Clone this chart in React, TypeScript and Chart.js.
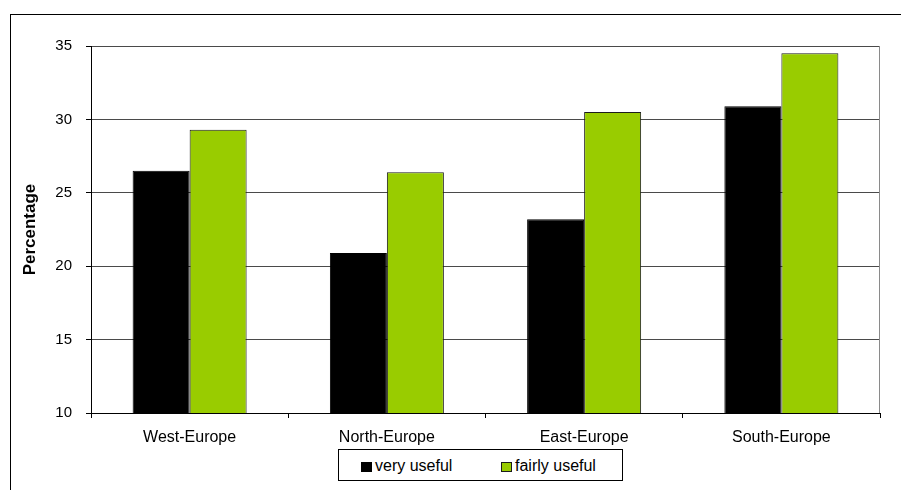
import React, { useEffect, useRef } from "react";
import { Chart, registerables } from "chart.js";

Chart.register(...registerables);

const categories = ["West-Europe", "North-Europe", "East-Europe", "South-Europe"];
const seriesNames = ["very useful", "fairly useful"];
const veryUseful = [26.5, 20.9, 23.2, 30.9];
const fairlyUseful = [29.3, 26.4, 30.5, 34.5];
const yTicks = [10, 15, 20, 25, 30, 35];
const yTitle = "Percentage";
const seriesColors = ["#000000", "#99CC00"];
const seriesBorders = ["#000000", "#1c1c1c"];

const FONT = "'Liberation Sans', Arial, Helvetica, sans-serif";

const plotBorderPlugin = {
  id: "plotBorder",
  afterDraw(chart: any) {
    const { ctx, chartArea } = chart;
    ctx.save();
    ctx.strokeStyle = "#8a8a8a";
    ctx.lineWidth = 1;
    const x = Math.round(chartArea.right) - 0.5;
    ctx.beginPath();
    ctx.moveTo(x, chartArea.top);
    ctx.lineTo(x, chartArea.bottom);
    ctx.stroke();
    ctx.restore();
  },
};

export default function App() {
  const canvasRef = useRef<HTMLCanvasElement | null>(null);

  useEffect(() => {
    document.body.style.margin = "0";
    const canvas = canvasRef.current;
    if (!canvas) return;
    Chart.defaults.font.family = FONT;
    const chart = new Chart(canvas, {
      type: "bar",
      data: {
        labels: categories,
        datasets: [
          {
            label: seriesNames[0],
            data: veryUseful,
            backgroundColor: seriesColors[0],
            borderColor: seriesBorders[0],
            borderWidth: 1,
            borderSkipped: false,
            categoryPercentage: 0.578,
            barPercentage: 1,
          },
          {
            label: seriesNames[1],
            data: fairlyUseful,
            backgroundColor: seriesColors[1],
            borderColor: seriesBorders[1],
            borderWidth: 1,
            borderSkipped: false,
            categoryPercentage: 0.578,
            barPercentage: 1,
          },
        ],
      },
      options: {
        responsive: false,
        animation: false,
        layout: { padding: { left: 0, top: 46, right: 21, bottom: 37 } },
        plugins: {
          legend: { display: false },
          tooltip: { enabled: false },
        },
        scales: {
          x: {
            grid: {
              display: true,
              drawOnChartArea: false,
              drawTicks: true,
              tickLength: 5,
              color: "#000",
              offset: true,
            },
            border: { display: true, color: "#000", width: 1 },
            ticks: {
              color: "#000",
              font: { family: FONT, size: 16 },
              padding: 10,
              maxRotation: 0,
              autoSkip: false,
            },
            afterFit: (s: any) => {
              s.height = 40;
            },
          },
          y: {
            min: yTicks[0],
            max: yTicks[yTicks.length - 1],
            ticks: {
              stepSize: yTicks[1] - yTicks[0],
              color: "#000",
              font: { family: FONT, size: 15 },
              padding: 14,
            },
            grid: { color: "#4a4a4a", tickColor: "#000", tickLength: 5, lineWidth: 1 },
            border: { display: true, color: "#000", width: 1 },
            title: {
              display: true,
              text: yTitle,
              color: "#000",
              font: { family: FONT, size: 17, weight: "bold" },
              padding: { top: 20.5, bottom: 0 },
            },
            afterFit: (s: any) => {
              s.width = 91;
            },
          },
        },
      },
      plugins: [plotBorderPlugin],
    });
    return () => chart.destroy();
  }, []);

  const legendFont: React.CSSProperties = {
    position: "absolute",
    fontFamily: FONT,
    fontSize: 16,
    lineHeight: "16px",
    color: "#000",
    top: 8,
    whiteSpace: "nowrap",
  };

  return (
    <div style={{ position: "absolute", left: 0, top: 0, width: 901, height: 490, overflow: "hidden", background: "#fff" }}>
      <div
        style={{
          position: "absolute",
          left: 10,
          top: 14,
          width: 1200,
          height: 1200,
          border: "1px solid #000",
          boxSizing: "border-box",
        }}
      />
      <canvas ref={canvasRef} width={901} height={490} style={{ position: "absolute", left: 0, top: 0, width: 901, height: 490 }} />
      <div
        style={{
          position: "absolute",
          left: 338,
          top: 449,
          width: 285,
          height: 32,
          border: "1px solid #000",
          boxSizing: "border-box",
          background: "#fff",
        }}
      >
        <div style={{ position: "absolute", left: 22, top: 12, width: 11, height: 10, background: seriesColors[0], border: "1px solid " + seriesBorders[0], boxSizing: "border-box" }} />
        <div style={{ ...legendFont, left: 36 }}>{seriesNames[0]}</div>
        <div style={{ position: "absolute", left: 162, top: 12, width: 11, height: 10, background: seriesColors[1], border: "1px solid " + seriesBorders[1], boxSizing: "border-box" }} />
        <div style={{ ...legendFont, left: 176 }}>{seriesNames[1]}</div>
      </div>
    </div>
  );
}
